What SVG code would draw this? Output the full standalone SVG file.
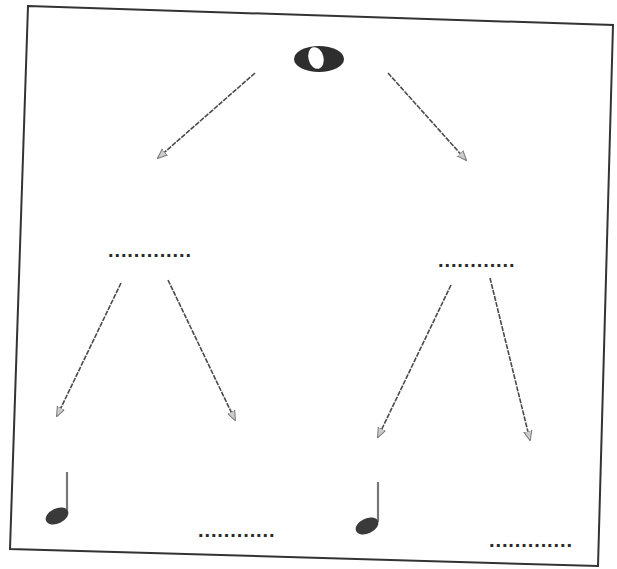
<svg xmlns="http://www.w3.org/2000/svg" width="617" height="569" viewBox="0 0 617 569">
  <defs>
    <style>
      .frame { fill: #ffffff; stroke: #333; stroke-width: 2; }
      .conn { stroke: #4a4a4a; stroke-width: 1.6; stroke-dasharray: 5 1.2; fill: none; marker-end: url(#ah); }
      .dots { font-family: "Liberation Sans", Arial, sans-serif; font-size: 20px; font-weight: bold; letter-spacing: 0.9px; fill: #2a2a2a; }
      .head { fill: #3a3a3a; }
      .stem { stroke: #777; stroke-width: 2.2; }
    </style>
    <marker id="ah" viewBox="0 0 10 10" refX="9" refY="5" markerWidth="10" markerHeight="10" markerUnits="userSpaceOnUse" orient="auto">
      <path d="M0,1 L10,5 L0,9 Z" fill="#ccc" stroke="#777" stroke-width="1"/>
    </marker>
  </defs>
  <rect width="617" height="569" fill="#ffffff"/>
  <polygon class="frame" points="28,6 613,25 598,566 10,549"/>

  <g id="whole-note">
    <ellipse cx="319" cy="59" rx="25" ry="13" fill="#2e2e2e"/>
    <ellipse cx="316" cy="58" rx="7.5" ry="11" transform="rotate(-15 316 58)" fill="#ffffff"/>
  </g>

  <g id="blank-left">
    <text class="dots" x="108" y="257">.............</text>
  </g>
  <g id="blank-right">
    <text class="dots" x="438" y="267">............</text>
  </g>

  <g id="quarter-left">
    <line class="stem" x1="67" y1="472" x2="67" y2="513"/>
    <ellipse class="head" cx="57" cy="516" rx="12" ry="7.5" transform="rotate(-25 57 516)"/>
  </g>
  <g id="blank-bottom-left">
    <text class="dots" x="198" y="537">............</text>
  </g>
  <g id="quarter-right">
    <line class="stem" x1="378" y1="482" x2="378" y2="522"/>
    <ellipse class="head" cx="367" cy="526" rx="12" ry="7.5" transform="rotate(-25 367 526)"/>
  </g>
  <g id="blank-bottom-right">
    <text class="dots" x="489" y="547">.............</text>
  </g>

  <g id="connectors">
    <line class="conn" x1="255" y1="73" x2="158" y2="158"/>
    <line class="conn" x1="388" y1="73" x2="466" y2="160"/>
    <line class="conn" x1="121" y1="283" x2="57" y2="416"/>
    <line class="conn" x1="168" y1="280" x2="235" y2="420"/>
    <line class="conn" x1="451" y1="285" x2="378" y2="437"/>
    <line class="conn" x1="490" y1="278" x2="530" y2="440"/>
  </g>
</svg>
